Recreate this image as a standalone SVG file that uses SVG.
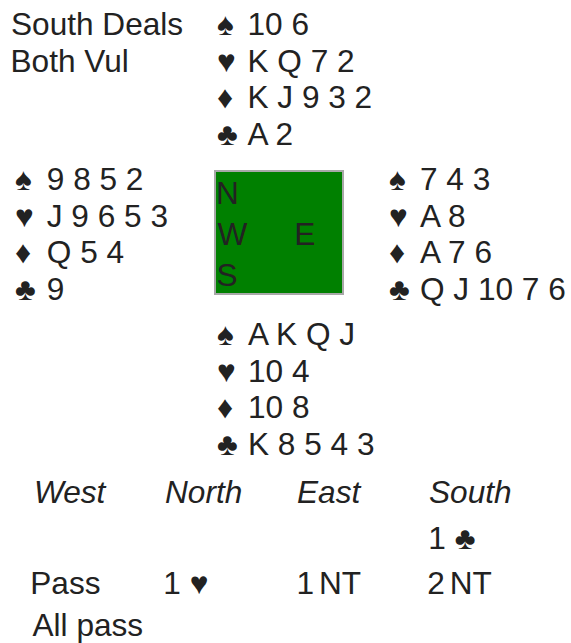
<svg xmlns="http://www.w3.org/2000/svg" width="571" height="643" viewBox="0 0 571 643">
  <style>
    text { font-family: "Liberation Sans", Arial, sans-serif; font-size: 31.6px; fill: #222; }
    .hdr { font-style: italic; }
    .nt { word-spacing: -4px; }
    .table { fill: #008000; stroke: #a8a8a8; stroke-width: 2; }
  </style>
  <rect width="571" height="643" fill="#fff"/>

  <!-- deal information -->
  <g id="deal-info">
    <text x="11" y="35">South Deals</text>
    <text x="10.5" y="71.7">Both Vul</text>
  </g>

  <!-- North hand: suit symbol column + card column -->
  <g id="north">
    <text x="217" y="35">♠</text><text x="247.5" y="35">10 6</text>
    <text x="217" y="71.7">♥</text><text x="247.5" y="71.7">K Q 7 2</text>
    <text x="217" y="108.3">♦</text><text x="247.5" y="108.3">K J 9 3 2</text>
    <text x="217" y="145">♣</text><text x="247.5" y="145">A 2</text>
  </g>

  <!-- West hand -->
  <g id="west">
    <text x="15" y="190">♠</text><text x="46.8" y="190">9 8 5 2</text>
    <text x="15" y="226.7">♥</text><text x="46.8" y="226.7">J 9 6 5 3</text>
    <text x="15" y="263.3">♦</text><text x="46.8" y="263.3">Q 5 4</text>
    <text x="15" y="300">♣</text><text x="46.8" y="300">9</text>
  </g>

  <!-- table with compass points -->
  <g id="table">
    <rect class="table" x="215" y="171" width="128" height="123"/>
    <text x="216" y="204.3">N</text>
    <text x="217.5" y="245">W</text>
    <text x="294.2" y="245">E</text>
    <text x="216.5" y="286">S</text>
  </g>

  <!-- East hand -->
  <g id="east">
    <text x="389" y="190">♠</text><text x="420" y="190">7 4 3</text>
    <text x="389" y="226.7">♥</text><text x="420" y="226.7">A 8</text>
    <text x="389" y="263.3">♦</text><text x="420" y="263.3">A 7 6</text>
    <text x="389" y="300">♣</text><text x="420" y="300">Q J 10 7 6</text>
  </g>

  <!-- South hand -->
  <g id="south">
    <text x="217" y="345">♠</text><text x="248" y="345">A K Q J</text>
    <text x="217" y="381.7">♥</text><text x="248" y="381.7">10 4</text>
    <text x="217" y="418.3">♦</text><text x="248" y="418.3">10 8</text>
    <text x="217" y="455">♣</text><text x="248" y="455">K 8 5 4 3</text>
  </g>

  <!-- auction -->
  <g id="auction">
    <text class="hdr" x="34" y="503">West</text>
    <text class="hdr" x="165" y="503">North</text>
    <text class="hdr" x="297" y="503">East</text>
    <text class="hdr" x="429" y="503">South</text>
    <text x="428.3" y="549">1 ♣</text>
    <text x="30.3" y="594">Pass</text>
    <text x="163.3" y="594">1 ♥</text>
    <text class="nt" x="296.6" y="594">1 NT</text>
    <text class="nt" x="427.3" y="594">2 NT</text>
    <text x="32.5" y="636">All pass</text>
  </g>
</svg>
